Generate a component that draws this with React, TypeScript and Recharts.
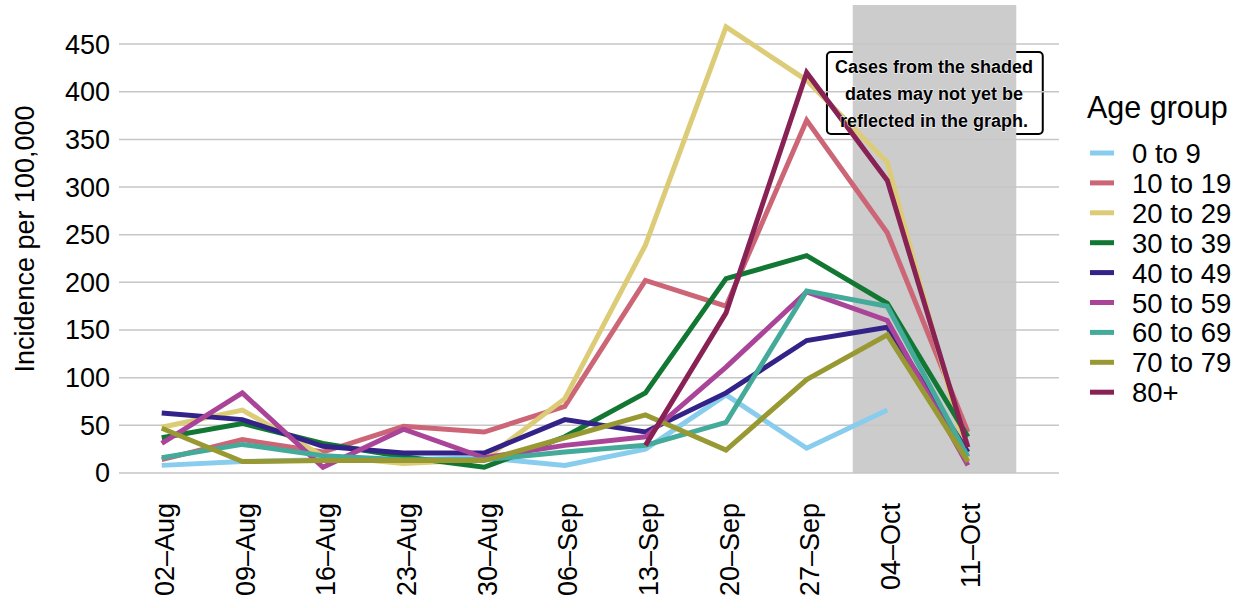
import React from "react";
import {
  LineChart,
  Line,
  XAxis,
  YAxis,
  ReferenceLine,
  ReferenceArea,
} from "recharts";

// week starting dates and their day number counted from 02-Aug
const weekLabels = ["02–Aug", "09–Aug", "16–Aug", "23–Aug", "30–Aug", "06–Sep", "13–Sep", "20–Sep", "27–Sep", "04–Oct", "11–Oct"];
const weekDays = [0, 7, 14, 21, 28, 35, 42, 49, 56, 63, 70];

const ageGroups = ["0 to 9", "10 to 19", "20 to 29", "30 to 39", "40 to 49", "50 to 59", "60 to 69", "70 to 79", "80+"];
const groupColors = ["#88CCEE", "#CC6677", "#DDCC77", "#117733", "#332288", "#AA4499", "#44AA99", "#999933", "#882255"];

const age0to9 = [8, 12, 14, 14, 16, 8, 25, 82, 26, 66, null];
const age10to19 = [14, 35, 22, 49, 43, 70, 202, 175, 370, 252, 43];
const age20to29 = [48, 66, 18, 10, 14, 78, 239, 468, 412, 326, 14];
const age30to39 = [37, 52, 31, 17, 6, 38, 84, 204, 228, 178, 38];
const age40to49 = [63, 56, 28, 21, 21, 56, 43, 84, 139, 153, 22];
const age50to59 = [31, 84, 6, 46, 16, 29, 38, 111, 190, 160, 8];
const age60to69 = [16, 30, 18, 14, 14, 22, 29, 53, 191, 175, 17];
const age70to79 = [47, 12, 13, 13, 13, 37, 61, 24, 98, 145, 12];
const age80plus = [null, null, null, null, null, null, 29, 168, 420, 307, 27];

const seriesValues = [age0to9, age10to19, age20to29, age30to39, age40to49, age50to59, age60to69, age70to79, age80plus];

const yTicks = [0, 50, 100, 150, 200, 250, 300, 350, 400, 450];

// shaded "not yet complete" window, in days from 02-Aug
const shadeStart = 60;
const shadeEnd = 74.2;

const noteLines = ["Cases from the shaded", "dates may not yet be", "reflected in the graph."];

const data = weekDays.map((day, i) => {
  const row: Record<string, number | null> = { day };
  ageGroups.forEach((g, k) => {
    row[g] = seriesValues[k][i];
  });
  return row;
});

const FONT = "'Liberation Sans', Arial, Helvetica, sans-serif";

const YTick = (props: any) => (
  <text x={110} y={props.y} dy="0.35em" textAnchor="end" fontSize={27} fontFamily={FONT} fill="#000">
    {props.payload.value}
  </text>
);

const XTick = (props: any) => {
  const idx = weekDays.indexOf(props.payload.value);
  return (
    <text
      transform={`translate(${props.x + 3},${503}) rotate(-90)`}
      dy="0.35em"
      textAnchor="end"
      fontSize={27}
      fontFamily={FONT}
      fill="#000"
    >
      {weekLabels[idx]}
    </text>
  );
};

export default function App() {
  return (
    <div style={{ position: "absolute", left: 0, top: 0, width: 1244, height: 608, background: "#fff" }}>
      <LineChart
        width={1244}
        height={608}
        data={data}
        margin={{ top: 5, right: 185, bottom: 0, left: 0 }}
        style={{ outline: "none" }}
      >
        <XAxis
          dataKey="day"
          type="number"
          domain={[-3.71, 77.91]}
          ticks={weekDays}
          height={135}
          axisLine={false}
          tickLine={false}
          tick={<XTick />}
          interval={0}
        />
        <YAxis
          type="number"
          domain={[0, 491]}
          ticks={yTicks}
          width={119}
          axisLine={false}
          tickLine={false}
          tick={<YTick />}
          interval={0}
        />
        {yTicks.map((t) => (
          <ReferenceLine key={t} y={t} stroke="#C6C6C6" strokeWidth={1.5} />
        ))}
        {/* note box sits under the shading and the lines */}
        <ReferenceArea
          x1={57.76}
          x2={76.5}
          y1={355.6}
          y2={441.6}
          fill="#fff"
          fillOpacity={1}
          stroke="#000"
          strokeWidth={2}
          radius={4}
        />
        <ReferenceArea
          x1={shadeStart}
          x2={shadeEnd}
          y1={0}
          y2={491}
          fill="#CCCCCC"
          fillOpacity={1}
          stroke="none"
        />
        {ageGroups.map((g, k) => (
          <Line
            key={g}
            type="linear"
            dataKey={g}
            stroke={groupColors[k]}
            strokeWidth={5}
            dot={false}
            isAnimationActive={false}
            strokeLinejoin="miter"
          />
        ))}
      </LineChart>
      <svg
        width={1244}
        height={608}
        style={{ position: "absolute", left: 0, top: 0, pointerEvents: "none" }}
      >
        <text
          transform="translate(25,239) rotate(-90)"
          textAnchor="middle"
          dy="0.35em"
          fontSize={27}
          fontFamily={FONT}
          fill="#000"
        >
          Incidence per 100,000
        </text>
        {noteLines.map((line, i) => (
          <text
            key={line}
            x={934}
            y={67 + i * 27}
            dy="0.35em"
            textAnchor="middle"
            fontSize={18}
            fontWeight="bold"
            fontFamily={FONT}
            fill="#000"
            stroke="#fff"
            strokeWidth={1}
            paintOrder="stroke"
          >
            {line}
          </text>
        ))}
        <text x={1087} y={118} fontSize={30.5} fontFamily={FONT} fill="#000">
          Age group
        </text>
        {ageGroups.map((g, k) => (
          <g key={g}>
            <line
              x1={1090}
              x2={1114}
              y1={153 + k * 29.9}
              y2={153 + k * 29.9}
              stroke={groupColors[k]}
              strokeWidth={5}
            />
            <text x={1132} y={163 + k * 29.9} fontSize={27.5} fontFamily={FONT} fill="#000">
              {g}
            </text>
          </g>
        ))}
      </svg>
    </div>
  );
}
